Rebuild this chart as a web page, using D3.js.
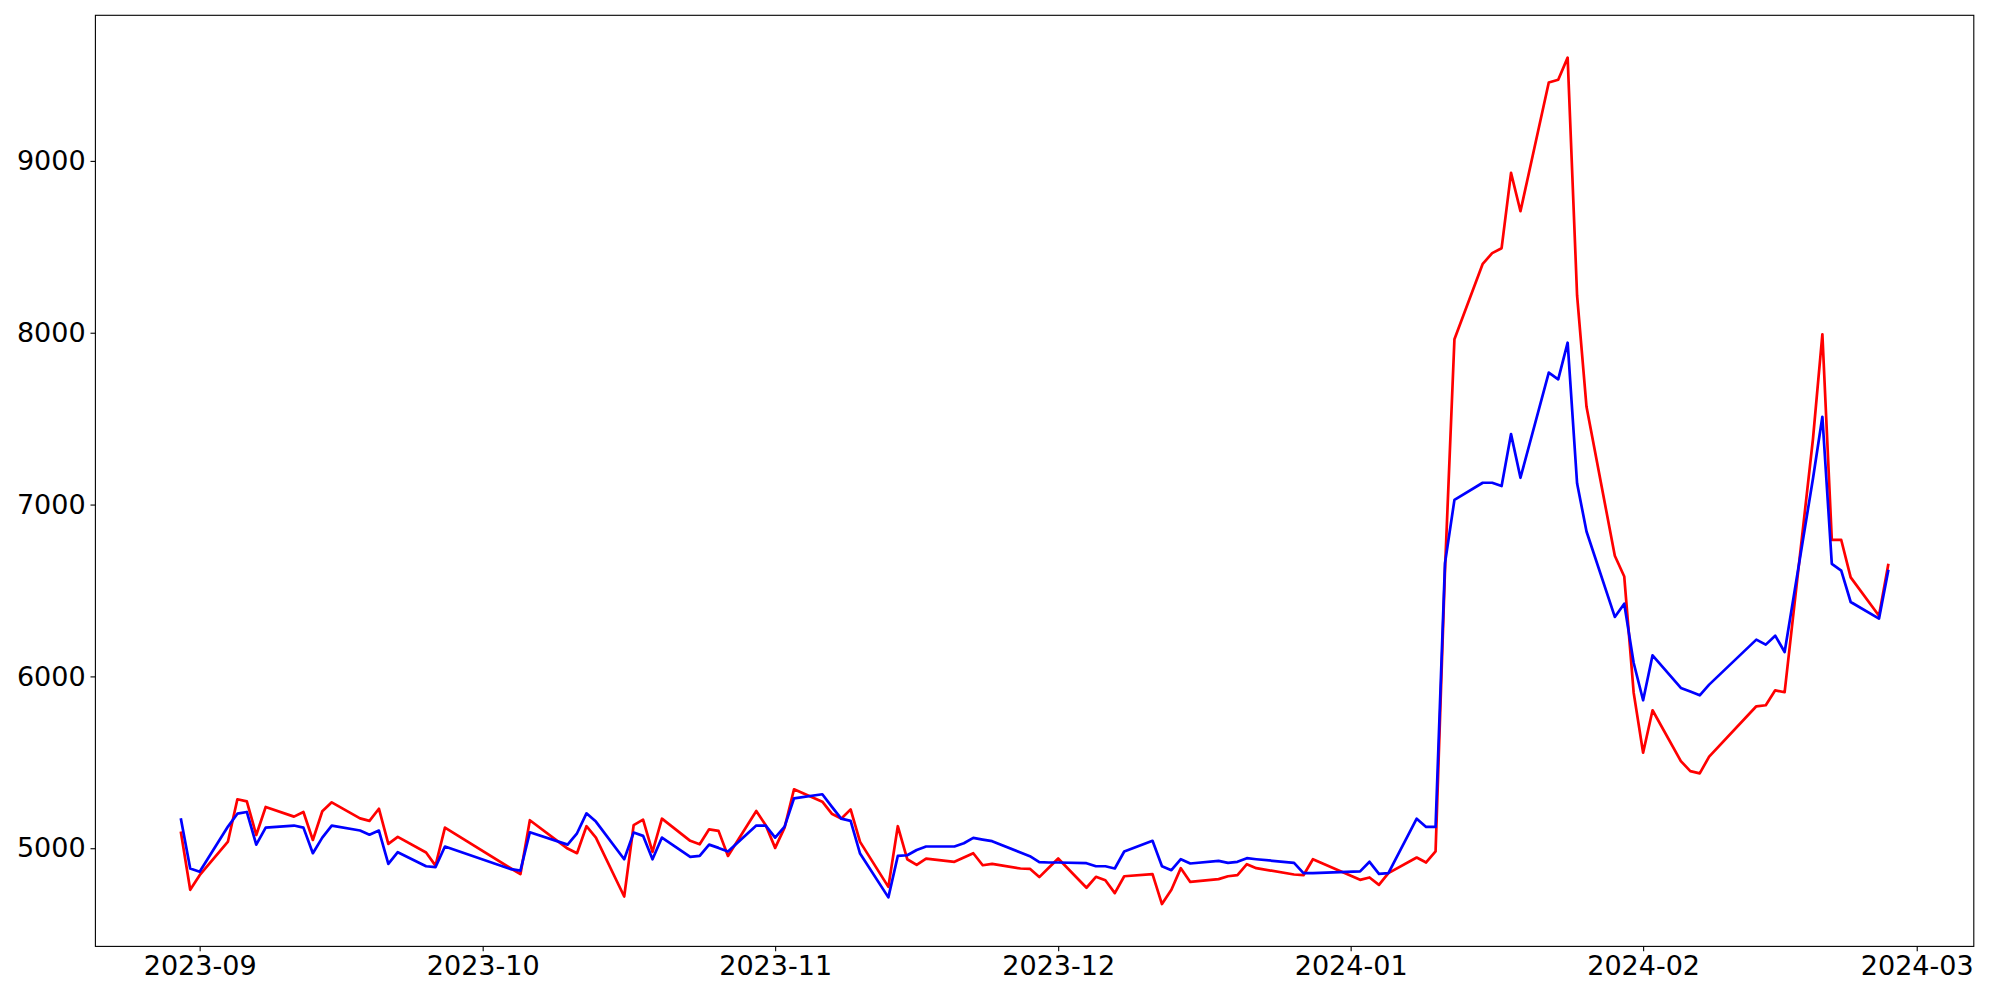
<!DOCTYPE html>
<html>
<head>
<meta charset="utf-8">
<script src="https://cdn.jsdelivr.net/npm/d3@7"></script>
<style>
  html, body { margin: 0; padding: 0; background: #fff; }
  svg { display: block; }
  text { font-family: "DejaVu Sans", sans-serif; }
</style>
</head>
<body>
<svg id="chart" width="2000" height="1000"></svg>
<script>
const dates = [
  "2023-08-30","2023-08-31","2023-09-01","2023-09-04","2023-09-05","2023-09-06","2023-09-07","2023-09-08",
  "2023-09-11","2023-09-12","2023-09-13","2023-09-14","2023-09-15","2023-09-18","2023-09-19","2023-09-20",
  "2023-09-21","2023-09-22","2023-09-25","2023-09-26","2023-09-27",
  "2023-10-04","2023-10-05","2023-10-06","2023-10-10","2023-10-11","2023-10-12","2023-10-13","2023-10-16",
  "2023-10-17","2023-10-18","2023-10-19","2023-10-20","2023-10-23","2023-10-24","2023-10-25","2023-10-26",
  "2023-10-27","2023-10-30","2023-10-31",
  "2023-11-01","2023-11-02","2023-11-03","2023-11-06","2023-11-07","2023-11-08","2023-11-09","2023-11-10",
  "2023-11-13","2023-11-14","2023-11-15","2023-11-16","2023-11-17","2023-11-20","2023-11-21","2023-11-22",
  "2023-11-23","2023-11-24","2023-11-27","2023-11-28","2023-11-29","2023-11-30",
  "2023-12-01","2023-12-04","2023-12-05","2023-12-06","2023-12-07","2023-12-08","2023-12-11","2023-12-12",
  "2023-12-13","2023-12-14","2023-12-15","2023-12-18","2023-12-19","2023-12-20","2023-12-21","2023-12-22",
  "2023-12-26","2023-12-27","2023-12-28",
  "2024-01-02","2024-01-03","2024-01-04","2024-01-05","2024-01-08","2024-01-09","2024-01-10","2024-01-11",
  "2024-01-12","2024-01-15","2024-01-16","2024-01-17","2024-01-18","2024-01-19","2024-01-22","2024-01-23",
  "2024-01-24","2024-01-25","2024-01-26","2024-01-29","2024-01-30","2024-01-31",
  "2024-02-01","2024-02-02","2024-02-05","2024-02-06","2024-02-07","2024-02-08","2024-02-13","2024-02-14",
  "2024-02-15","2024-02-16","2024-02-19","2024-02-20","2024-02-21","2024-02-22","2024-02-23","2024-02-26",
  "2024-02-27"
];

const redSeries = [
  5097,4758,4843,5039,5285,5273,5077,5240,5184,5211,5048,5215,5267,5174,5159,5230,5025,5066,4975,4899,5120,
  4882,4849,5163,4998,4971,5128,5062,4719,5134,5166,4979,5172,5043,5023,5110,5101,4955,5217,5134,
  5002,5120,5343,5271,5201,5172,5226,5037,4775,5128,4936,4903,4940,4921,4946,4971,4901,4909,4882,4880,4832,4886,
  4940,4770,4834,4814,4739,4837,4849,4675,4758,4884,4804,4820,4837,4843,4907,4884,4847,4843,4936,
  4816,4830,4787,4855,4946,4917,4981,6620,7962,8401,8463,8492,8930,8707,9456,9472,9601,8217,7569,6702,6581,5904,
  5556,5803,5507,5449,5436,5533,5826,5832,5919,5908,7380,7991,6794,6794,6576,6353,6655
];

const blueSeries = [
  5174,4882,4863,5126,5201,5211,5021,5120,5132,5120,4971,5062,5132,5103,5079,5103,4909,4977,4895,4890,5010,
  4878,4870,5093,5021,5087,5203,5155,4936,5091,5072,4936,5062,4950,4955,5021,5002,4981,5132,5132,
  5062,5126,5290,5314,5242,5172,5159,4969,4714,4955,4959,4990,5010,5010,5029,5060,5050,5041,4975,4954,4919,4917,
  4917,4913,4895,4895,4882,4981,5043,4895,4872,4936,4911,4926,4915,4921,4942,4936,4915,4855,4855,
  4865,4921,4851,4855,5172,5124,5124,6659,7027,7127,7127,7108,7410,7156,7768,7729,7942,7124,6843,6346,6423,6078,
  5861,6123,5933,5912,5890,5952,6214,6185,6237,6142,7150,7511,6655,6616,6433,6336,6620
];

const yTickValues = [5000, 6000, 7000, 8000, 9000];
const xTickLabels = ["2023-09","2023-10","2023-11","2023-12","2024-01","2024-02","2024-03"];

const W = 2000, H = 1000;
const margin = { left: 95.4, right: 26.2, top: 15.3, bottom: 53.6 };
const parse = d3.utcParse("%Y-%m-%d");
const parseMonth = d3.utcParse("%Y-%m");
const t = dates.map(parse);

const svg = d3.select("#chart");

// x scale with 5% padding like matplotlib
const tExt = d3.extent(t);
const tPad = (tExt[1] - tExt[0]) * 0.05;
const x = d3.scaleUtc()
  .domain([new Date(+tExt[0] - tPad), new Date(+tExt[1] + tPad)])
  .range([margin.left, W - margin.right]);

const allVals = redSeries.concat(blueSeries);
const vExt = d3.extent(allVals);
const vPad = (vExt[1] - vExt[0]) * 0.05;
const y = d3.scaleLinear()
  .domain([vExt[0] - vPad, vExt[1] + vPad])
  .range([H - margin.bottom, margin.top]);

const line = (vals) => d3.line()
  .x((d, i) => x(t[i]))
  .y(d => y(d))(vals);

svg.append("path")
  .attr("d", line(redSeries))
  .attr("fill", "none")
  .attr("stroke", "#ff0000")
  .attr("stroke-width", 2.7)
  .attr("stroke-linejoin", "round")
  .attr("stroke-linecap", "butt");

svg.append("path")
  .attr("d", line(blueSeries))
  .attr("fill", "none")
  .attr("stroke", "#0000ff")
  .attr("stroke-width", 2.7)
  .attr("stroke-linejoin", "round")
  .attr("stroke-linecap", "butt");

// axes
const xAxis = d3.axisBottom(x)
  .tickValues(xTickLabels.map(parseMonth))
  .tickFormat(d3.utcFormat("%Y-%m"))
  .tickSize(4.9)
  .tickPadding(4.9);
const yAxis = d3.axisLeft(y)
  .tickValues(yTickValues)
  .tickFormat(d3.format("d"))
  .tickSize(4.9)
  .tickPadding(4.9);

const gx = svg.append("g")
  .attr("transform", `translate(0,${H - margin.bottom})`)
  .call(xAxis);
const gy = svg.append("g")
  .attr("transform", `translate(${margin.left},0)`)
  .call(yAxis);

[gx, gy].forEach(g => {
  g.select(".domain").remove();
  g.selectAll(".tick line").attr("stroke", "#000").attr("stroke-width", 1.1);
  g.selectAll(".tick text")
    .attr("fill", "#000")
    .style("font-family", "'DejaVu Sans', sans-serif")
    .style("font-size", "27px");
});

// frame
svg.append("rect")
  .attr("x", margin.left)
  .attr("y", margin.top)
  .attr("width", W - margin.left - margin.right)
  .attr("height", H - margin.top - margin.bottom)
  .attr("fill", "none")
  .attr("stroke", "#000")
  .attr("stroke-width", 1.1);
</script>
</body>
</html>
